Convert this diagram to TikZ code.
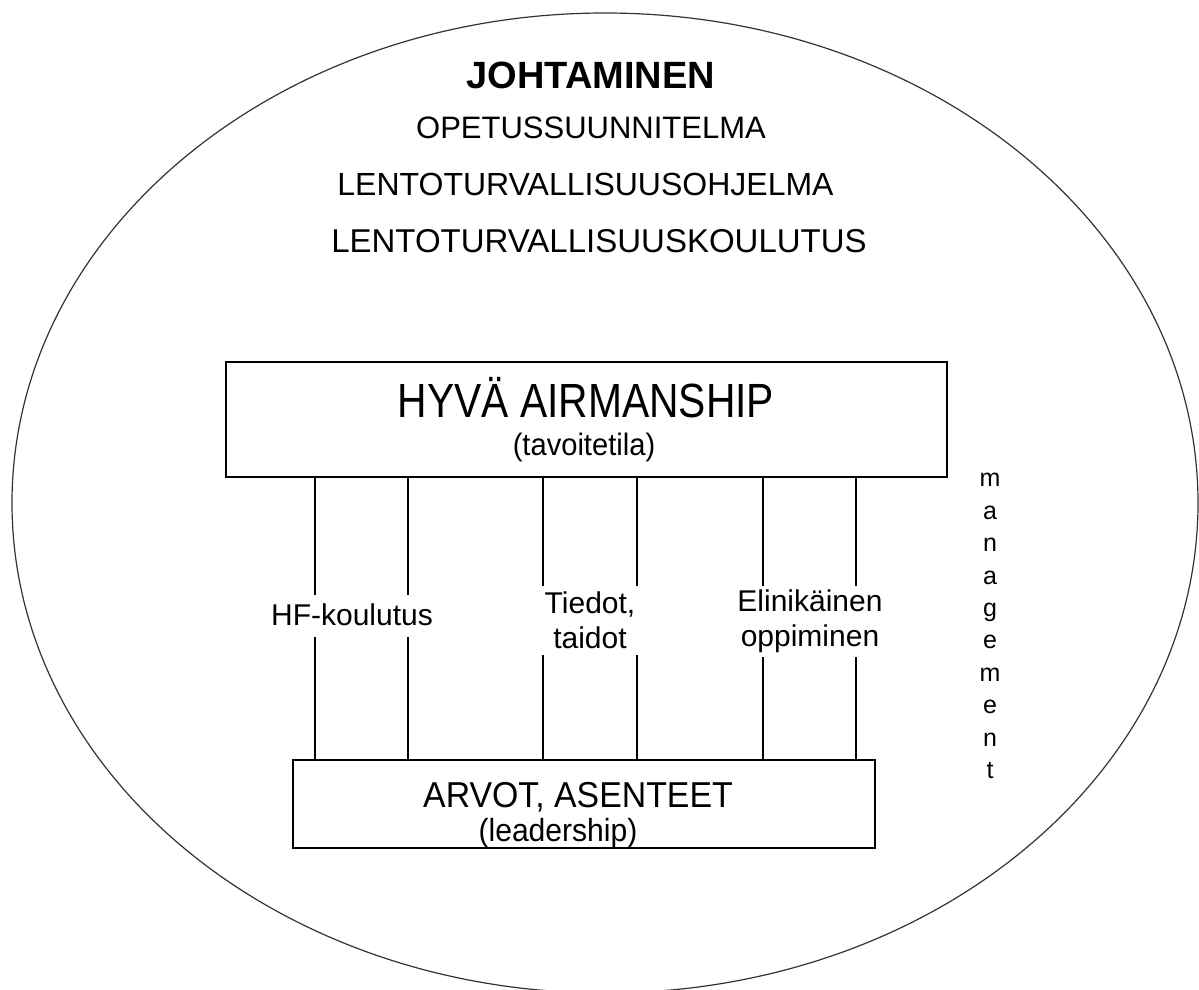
\documentclass[tikz,border=0pt]{standalone}
\usepackage{fontspec}
\setmainfont{Liberation Sans}
\newfontfamily\condfont[FakeStretch=0.85]{Liberation Sans}
\newfontfamily\semicond[FakeStretch=0.94]{Liberation Sans}
\begin{document}
\begin{tikzpicture}[x=1pt,y=-1pt,
  box/.style={draw, line width=1.8pt, inner sep=0pt},
  link/.style={line width=1.1pt},
  txt/.style={inner sep=0pt, anchor=base},
  lbl/.style={inner sep=0pt, align=center, font=\fontsize{30}{35}\selectfont}]
\useasboundingbox (0,0) rectangle (1199,989);
\fill[white] (0,0) rectangle (1199,989);
% outer ellipse
\draw[line width=1.2pt, black!80] (605,503) ellipse [x radius=593, y radius=490];
% headings
\node[txt, font=\bfseries\fontsize{38}{38}\selectfont] (joht) at (591,88) {JOHTAMINEN};
\node[txt, font=\fontsize{31}{31}\selectfont] (ops) at (591,138) {OPETUSSUUNNITELMA};
\node[txt, font=\fontsize{32}{32}\selectfont] (ohj) at (585.5,195) {LENTOTURVALLISUUSOHJELMA};
\node[txt, font=\fontsize{33}{33}\selectfont] (kou) at (599,252) {LENTOTURVALLISUUSKOULUTUS};
% boxes
\node[box, minimum width=721pt, minimum height=115pt] (top) at (586.5,419.5) {};
\node[txt, font=\condfont\fontsize{48}{48}\selectfont] (hyva) at (586,417) {HYVÄ AIRMANSHIP};
\node[txt, font=\semicond\fontsize{31}{31}\selectfont] (tav) at (584,455) {(tavoitetila)};
\node[box, minimum width=582pt, minimum height=88pt] (bot) at (584,804) {};
\node[txt, font=\semicond\fontsize{36}{36}\selectfont] (arvot) at (578,807) {ARVOT, ASENTEET};
\node[txt, font=\semicond\fontsize{32}{32}\selectfont] (lead) at (558,841) {(leadership)};
% labels
\node[lbl] (hf) at (352,615) {HF-koulutus};
\node[lbl] (tied) at (590,620) {Tiedot,\\taidot};
\node[lbl] (elin) at (810,621) {Elinikäinen\\oppiminen};
\node[inner sep=0pt, align=center, font=\fontsize{25}{32.4}\selectfont] (man) at (990,626) {m\\a\\n\\a\\g\\e\\m\\e\\n\\t};
% gap coordinates
\coordinate (hfa) at (0,595); \coordinate (hfb) at (0,637);
\coordinate (tia) at (0,586); \coordinate (tib) at (0,655);
\coordinate (ela) at (0,586); \coordinate (elb) at (0,657);
% connectors
\draw[link] (315,0 |- top.south) -- (315,0 |- hfa);
\draw[link] (315,0 |- hfb) -- (315,0 |- bot.north);
\draw[link] (408,0 |- top.south) -- (408,0 |- hfa);
\draw[link] (408,0 |- hfb) -- (408,0 |- bot.north);
\draw[link] (543,0 |- top.south) -- (543,0 |- tia);
\draw[link] (543,0 |- tib) -- (543,0 |- bot.north);
\draw[link] (637,0 |- top.south) -- (637,0 |- tia);
\draw[link] (637,0 |- tib) -- (637,0 |- bot.north);
\draw[link] (763,0 |- top.south) -- (763,0 |- ela);
\draw[link] (763,0 |- elb) -- (763,0 |- bot.north);
\draw[link] (856,0 |- top.south) -- (856,0 |- ela);
\draw[link] (856,0 |- elb) -- (856,0 |- bot.north);
\end{tikzpicture}
\end{document}
